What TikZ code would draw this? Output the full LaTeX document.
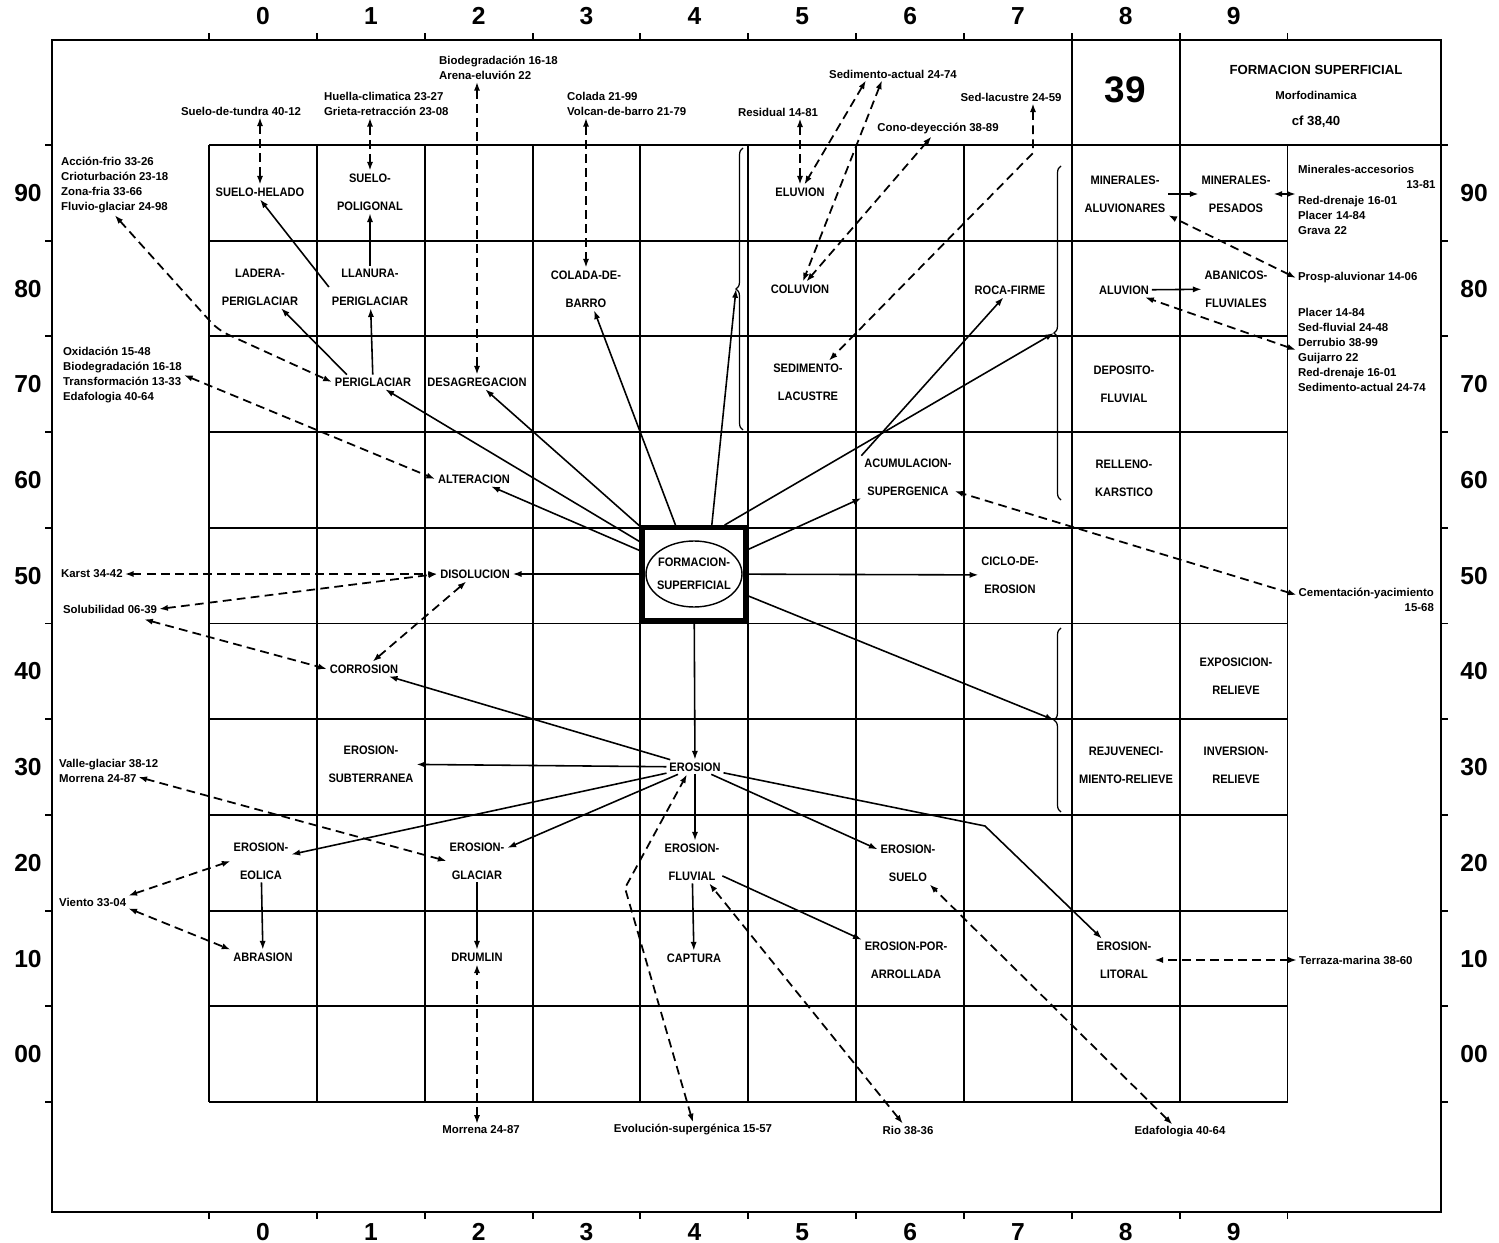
\documentclass[tikz,border=0pt]{standalone}
\usepackage{fontspec}
\setmainfont{Liberation Sans}
\newfontfamily\lblfont{Liberation Sans}[FakeStretch=0.9]
\usepackage{tikz}
\usetikzlibrary{arrows.meta,calc,positioning,shapes.geometric,decorations.pathreplacing}

\begin{document}
\begin{tikzpicture}[x=0.02cm,y=-0.02cm,
  lbl/.style={font=\lblfont\bfseries\fontsize{7}{15.9}\selectfont,align=center,inner sep=1.5pt},
  note/.style={font=\bfseries\fontsize{6.5}{8.6}\selectfont,align=left,inner sep=1pt},
  num/.style={font=\bfseries\fontsize{14}{16}\selectfont},
  gridline/.style={line width=1.1pt},
  arr/.style={-{Latex[length=5pt,width=3.5pt]},line width=0.9pt},
  dsh/.style={{Latex[length=5pt,width=3.5pt]}-{Latex[length=5pt,width=3.5pt]},line width=1pt,dash pattern=on 5pt off 3pt},
  brc/.style={decorate,decoration={brace,amplitude=4pt},line width=0.7pt}]
\useasboundingbox (0,0) rectangle (1499,1243);
\draw[gridline] (52,40) rectangle (1441,1212);
\foreach \i in {0,...,10} {
  \draw[gridline] ({209+107.85*\i},40) -- ++(0,-7);
  \draw[gridline] ({209+107.85*\i},1212) -- ++(0,7);
  \draw[gridline] (52,{145+95.7*\i}) -- ++(-7,0);
  \draw[gridline] (1441,{145+95.7*\i}) -- ++(7,0);
  \draw[gridline] ({209+107.85*\i},145) -- ({209+107.85*\i},1102);
  \draw[gridline] (209,{145+95.7*\i}) -- (1288,{145+95.7*\i});
}
\draw[gridline] (1288,145) -- (1441,145);
\draw[gridline] (1071.8,40) -- (1071.8,145);
\draw[gridline] (1179.6,40) -- (1179.6,145);
\foreach \c in {0,...,9} {
  \node[num] (ctop\c) at ({263+107.85*\c},16) {\c};
  \node[num] (cbot\c) at ({263+107.85*\c},1232) {\c};
}
\foreach \r [count=\k from 0] in {90,80,70,60,50,40,30,20,10,00} {
  \node[num] (rl\k) at (28,{193+95.7*\k}) {\r};
  \node[num] (rr\k) at (1474,{193+95.7*\k}) {\r};
}
\node[font=\bfseries\fontsize{21}{24}\selectfont] (num39) at (1125,90) {39};
\node[font=\bfseries\fontsize{7.5}{14.5}\selectfont,align=center] (title) at (1316,96) {FORMACION SUPERFICIAL\\{\fontsize{6.5}{14.5}\selectfont Morfodinamica}\\cf 38,40};

\node[draw,line width=2.8pt,minimum width=2.06cm,minimum height=1.86cm] (formacion) at (694,574) {};
\draw[line width=0.8pt] (formacion.center) ellipse [x radius=0.96cm,y radius=0.66cm];
\node[lbl,font=\lblfont\bfseries\fontsize{7}{13}\selectfont] (formtxt) at (formacion) {FORMACION-\\SUPERFICIAL};

\node[lbl] (helado) at (260,192) {SUELO-HELADO};
\node[lbl] (poligonal) at (370,192) {SUELO-\\POLIGONAL};
\node[lbl] (ladera) at (260,287) {LADERA-\\PERIGLACIAR};
\node[lbl] (llanura) at (370,287) {LLANURA-\\PERIGLACIAR};
\node[lbl] (periglaciar) at (373,382) {PERIGLACIAR};
\node[lbl] (desagreg) at (477,382) {DESAGREGACION};
\node[lbl] (colada) at (586,289) {COLADA-DE-\\BARRO};
\node[lbl] (alteracion) at (474,479) {ALTERACION};
\node[lbl] (eluvion) at (800,192) {ELUVION};
\node[lbl] (coluvion) at (800,289) {COLUVION};
\node[lbl] (sedlac) at (808,382) {SEDIMENTO-\\LACUSTRE};
\node[lbl] (roca) at (1010,290) {ROCA-FIRME};
\node[lbl] (acumul) at (908,477) {ACUMULACION-\\SUPERGENICA};
\node[lbl] (minalu) at (1125,194) {MINERALES-\\ALUVIONARES};
\node[lbl] (minpes) at (1236,194) {MINERALES-\\PESADOS};
\node[lbl] (aluvion) at (1124,290) {ALUVION};
\node[lbl] (abanicos) at (1236,289) {ABANICOS-\\FLUVIALES};
\node[lbl] (deposito) at (1124,384) {DEPOSITO-\\FLUVIAL};
\node[lbl] (relleno) at (1124,478) {RELLENO-\\KARSTICO};
\node[lbl] (ciclo) at (1010,575) {CICLO-DE-\\EROSION};
\node[lbl] (disolucion) at (475,574) {DISOLUCION};
\node[lbl] (corrosion) at (364,669) {CORROSION};
\node[lbl] (exposicion) at (1236,676) {EXPOSICION-\\RELIEVE};
\node[lbl] (erosion) at (695,767) {EROSION};
\node[lbl] (subterranea) at (371,764) {EROSION-\\SUBTERRANEA};
\node[lbl] (rejuv) at (1126,765) {REJUVENECI-\\MIENTO-RELIEVE};
\node[lbl] (inversion) at (1236,765) {INVERSION-\\RELIEVE};
\node[lbl] (eolica) at (261,861) {EROSION-\\EOLICA};
\node[lbl] (glaciar) at (477,861) {EROSION-\\GLACIAR};
\node[lbl] (fluvial) at (692,862) {EROSION-\\FLUVIAL};
\node[lbl] (suelo) at (908,863) {EROSION-\\SUELO};
\node[lbl] (abrasion) at (263,957) {ABRASION};
\node[lbl] (drumlin) at (477,957) {DRUMLIN};
\node[lbl] (captura) at (694,958) {CAPTURA};
\node[lbl] (arrollada) at (906,960) {EROSION-POR-\\ARROLLADA};
\node[lbl] (litoral) at (1124,960) {EROSION-\\LITORAL};

\node[note] (nTundra) at (241,111) {Suelo-de-tundra 40-12};
\node[note,anchor=west] (nHuella) at (322,104) {Huella-climatica 23-27\\Grieta-retracción 23-08};
\node[note,anchor=west] (nBiodeg) at (437,68) {Biodegradación 16-18\\Arena-eluvión 22};
\node[note,anchor=west] (nColada) at (565,104) {Colada 21-99\\Volcan-de-barro 21-79};
\node[note] (nResidual) at (778,112) {Residual 14-81};
\node[note] (nSedact) at (893,74) {Sedimento-actual 24-74};
\node[note] (nSedlac) at (1011,97) {Sed-lacustre 24-59};
\node[note] (nCono) at (938,129) {Cono-deyección 38-89};
\node[note,anchor=west] (nAccion) at (59,185) {Acción-frio 33-26\\Crioturbación 23-18\\Zona-fria 33-66\\Fluvio-glaciar 24-98};
\node[note,anchor=west] (nOxid) at (61,375) {Oxidación 15-48\\Biodegradación 16-18\\Transformación 13-33\\Edafologia 40-64};
\node[note,anchor=west] (nKarst) at (59,574) {Karst 34-42};
\node[note,anchor=west] (nSolub) at (61,609) {Solubilidad 06-39};
\node[note,anchor=west] (nValle) at (57,771) {Valle-glaciar 38-12\\Morrena 24-87};
\node[note,anchor=west] (nViento) at (57,902) {Viento 33-04};
\node[note] (nMorrena) at (481,1130) {Morrena 24-87};
\node[note] (nEvol) at (693,1130) {Evolución-supergénica 15-57};
\node[note] (nRio) at (908,1130) {Rio 38-36};
\node[note] (nEdaf) at (1180,1132) {Edafologia 40-64};
\node[note,anchor=west,text width=2.75cm] (nMinacc) at (1296,200) {Minerales-accesorios\\\hspace*{\fill}13-81\\Red-drenaje 16-01\\Placer 14-84\\Grava 22};
\node[note,anchor=west] (nProsp) at (1296,278) {Prosp-aluvionar 14-06};
\node[note,anchor=west] (nPlacer) at (1296,350) {Placer 14-84\\Sed-fluvial 24-48\\Derrubio 38-99\\Guijarro 22\\Red-drenaje 16-01\\Sedimento-actual 24-74};
\node[note,align=right,anchor=east] (nCement) at (1436,600) {Cementación-yacimiento\\15-68};
\node[note,anchor=west] (nTerraza) at (1297,960) {Terraza-marina 38-60};

\coordinate (kA) at (218,330);
\coordinate (kS) at (1033,153);
\coordinate (kE) at (625,888);
\coordinate (kL) at (985,826);
\coordinate (b1) at (736,289);
\coordinate (b2) at (1054,333);
\coordinate (b3) at (1054,720);
\draw[brc] (743,430) -- (743,148);
\draw[brc] (1061,500) -- (1061,166);
\draw[brc] (1061,812) -- (1061,628);

\draw[arr] (llanura.west) -- (helado.south);
\draw[arr] (llanura) -- (poligonal);
\draw[arr] (periglaciar) -- (llanura);
\draw[arr] ($(periglaciar.north west)+(15,0)$) -- (ladera);
\draw[arr] (formacion) -- (periglaciar);
\draw[arr] (formacion) -- (desagreg);
\draw[arr] (formacion) -- (colada);
\draw[arr] (formacion) -- (alteracion);
\draw[arr] (formacion.70) -- (b1);
\draw[arr] (formacion.58) -- (b2);
\draw[arr] (acumul.north west) -- (roca);
\draw[arr] (formacion) -- (acumul);
\draw[arr] (formacion) -- (disolucion);
\draw[arr] (formacion) -- (ciclo);
\draw[arr] (formacion) -- (b3);
\draw[arr] (formacion) -- (erosion);
\draw[arr] (erosion) -- (corrosion);
\draw[arr] (erosion) -- (subterranea);
\draw[arr] (erosion) -- (eolica);
\draw[arr] (erosion) -- (glaciar);
\draw[arr] (erosion) -- (erosion |- fluvial.north);
\draw[arr] (erosion) -- (suelo);
\draw[arr] (erosion) -- (kL) -- (litoral);
\draw[arr] (eolica) -- (abrasion);
\draw[arr] (glaciar) -- (drumlin);
\draw[arr] (fluvial) -- (captura);
\draw[arr] (fluvial) -- (arrollada);
\draw[arr] (minalu) -- (minpes);
\draw[arr] (aluvion) -- (abanicos);

\draw[dsh] (helado.north |- nTundra.south) -- (helado);
\draw[dsh] (poligonal.north |- nHuella.south) -- (poligonal);
\draw[dsh] (desagreg.north |- nBiodeg.south) -- (desagreg);
\draw[dsh] (colada.north |- nColada.south) -- (colada);
\draw[dsh] (eluvion.north |- nResidual.south) -- (eluvion);
\draw[dsh] ($(nSedact.south)+(-27,0)$) -- (eluvion);
\draw[dsh] ($(nSedact.south)+(-11,0)$) -- (coluvion);
\draw[dsh] (nCono) -- (coluvion);
\draw[dsh] (nSedlac.south -| kS) -- (kS) -- (sedlac);
\draw[dsh,rounded corners=6pt] (nAccion.south) -- (kA) -- (periglaciar.west);
\draw[dsh] (nOxid.east) -- (alteracion.west);
\draw[dsh] (nKarst.east) -- (disolucion.west);
\draw[dsh] (nSolub.east) -- (disolucion.west);
\draw[dsh] (disolucion) -- (corrosion);
\draw[dsh] ($(nSolub.south east)+(-15,4)$) -- (corrosion.west);
\draw[dsh] ($(nValle.east)+(-22,6)$) -- (glaciar.west);
\draw[dsh] (nViento.north east) -- (eolica.west);
\draw[dsh] (nViento.south east) -- (abrasion.north west);
\draw[dsh] (drumlin.south |- nMorrena.north) -- (drumlin);
\draw[dsh] (nEvol.north) -- (kE) -- ($(erosion.south)+(-8,0)$);
\draw[dsh] (nRio) -- (fluvial);
\draw[dsh] (nEdaf) -- (suelo);
\draw[dsh] (nMinacc.west |- minpes) -- (minpes);
\draw[dsh] (nProsp.west) -- (minalu);
\draw[dsh] (nPlacer.west) -- (aluvion);
\draw[dsh] ($(nCement.west)+(0,-5)$) -- (acumul);
\draw[dsh] (nTerraza) -- (litoral);
\end{tikzpicture}
\end{document}
